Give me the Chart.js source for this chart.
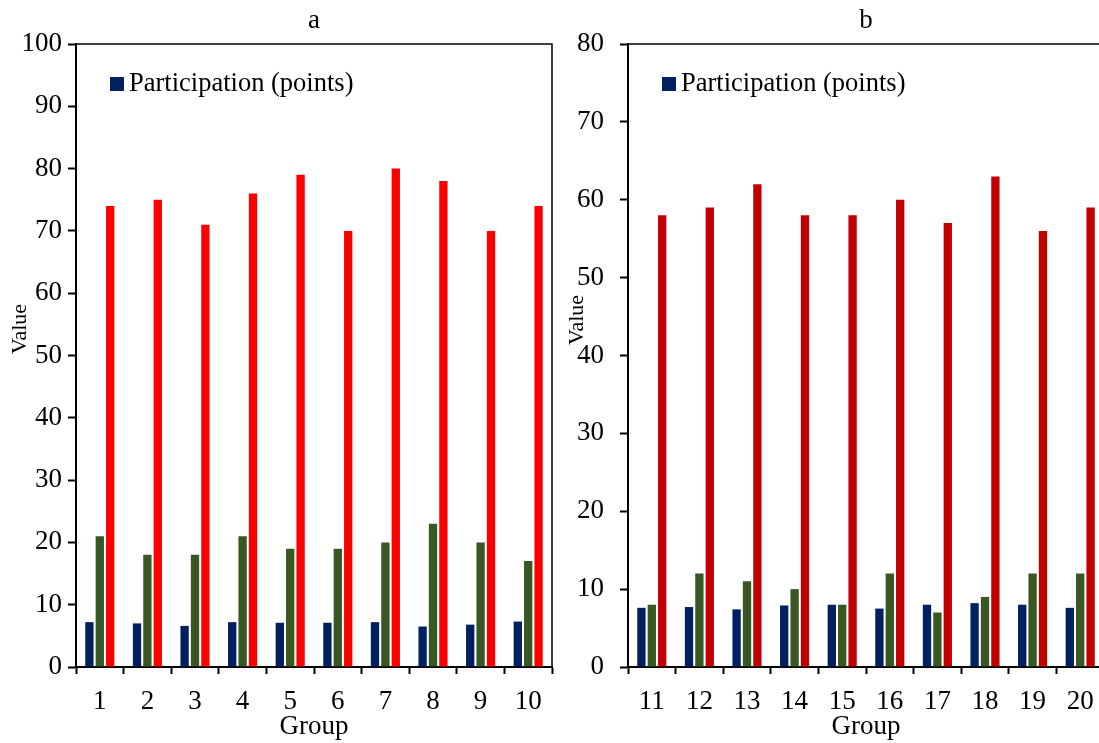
<!DOCTYPE html>
<html>
<head>
<meta charset="utf-8">
<script src="https://cdn.jsdelivr.net/npm/chart.js@4"></script>
<style>
  html, body { margin: 0; padding: 0; background: #fff; overflow: hidden; width: 1099px; height: 743px; }
  #wrapA { position: absolute; left: 0; top: 0; width: 565px; height: 743px; }
  #wrapB { position: absolute; left: 565px; top: 0; width: 560px; height: 743px; }
</style>
</head>
<body>
<div id="wrapA"><canvas id="chartA" width="565" height="743"></canvas></div>
<div id="wrapB"><canvas id="chartB" width="560" height="743"></canvas></div>
<script>
// panel a
var groupsA = ['1', '2', '3', '4', '5', '6', '7', '8', '9', '10'];
var participationA = [7.2, 7.0, 6.6, 7.2, 7.1, 7.1, 7.2, 6.5, 6.8, 7.3];
var secondA = [21, 18, 18, 21, 19, 19, 20, 23, 20, 17];
var thirdA = [74, 75, 71, 76, 79, 70, 80, 78, 70, 74];

// panel b
var groupsB = ['11', '12', '13', '14', '15', '16', '17', '18', '19', '20'];
var participationB = [7.6, 7.7, 7.4, 7.9, 8.0, 7.5, 8.0, 8.2, 8.0, 7.6];
var secondB = [8, 12, 11, 10, 8, 12, 7, 9, 12, 12];
var thirdB = [58, 59, 62, 58, 58, 60, 57, 63, 56, 59];

var FONT = '"Liberation Serif", "Times New Roman", serif';

// frame on top/right, inner legend and the small "Value" label
var extras = {
    id: 'extras',
    afterDraw: function(chart, args, opts){
        var ctx = chart.ctx, a = chart.chartArea;
        ctx.save();
        ctx.strokeStyle = '#000';
        ctx.lineWidth = 1.5;
        ctx.beginPath();
        ctx.moveTo(a.left, a.top);
        ctx.lineTo(a.right, a.top);
        ctx.lineTo(a.right, a.bottom);
        ctx.stroke();

        // legend, first dataset only
        var ds = chart.data.datasets[0];
        ctx.fillStyle = ds.backgroundColor;
        ctx.fillRect(a.left + opts.legendX, a.top + 33, 14, 14);
        ctx.fillStyle = '#000';
        ctx.font = '26.5px ' + FONT;
        ctx.textBaseline = 'middle';
        ctx.textAlign = 'left';
        ctx.fillText(ds.label, a.left + opts.legendX + 19, a.top + 40);

        // y title
        ctx.translate(a.left + opts.valueX, opts.valueY);
        ctx.rotate(-Math.PI / 2);
        ctx.textAlign = 'center';
        ctx.font = '22px ' + FONT;
        ctx.fillText('Value', 0, 0);
        ctx.restore();
    }
};

function makeChart(id, title, labels, blue, green, red, redColor, yMax, yWidth, yPad, padRight, legendX, valueX, valueY){
    var ctx = document.getElementById(id).getContext('2d');
    return new Chart(ctx, {
        type: 'bar',
        data: {
            labels: labels,
            datasets: [{
                label: 'Participation (points)',
                data: blue,
                backgroundColor: '#002060'
            },
            {
                label: 'Series 2',
                data: green,
                backgroundColor: '#385723'
            },
            {
                label: 'Series 3',
                data: red,
                backgroundColor: redColor
            }]
        },
        options: {
            responsive: false,
            animation: false,
            layout: { padding: { left: 0, right: padRight, top: 0, bottom: 0 } },
            datasets: {
                bar: { categoryPercentage: 0.655, barPercentage: 0.8 }
            },
            plugins: {
                legend: { display: false },
                tooltip: { enabled: false },
                title: {
                    display: true,
                    text: title,
                    fullSize: false,
                    color: '#000',
                    font: { family: FONT, size: 27, weight: 'normal', lineHeight: 1.2 },
                    padding: { top: 5, bottom: 6.6 }
                },
                extras: { legendX: legendX, valueX: valueX, valueY: valueY }
            },
            scales: {
                x: {
                    afterFit: function(s){ s.height = 76; },
                    grid: {
                        offset: true,
                        drawOnChartArea: false,
                        drawTicks: true,
                        tickLength: 7,
                        tickWidth: 2,
                        tickColor: '#000'
                    },
                    border: { color: '#000', width: 2 },
                    ticks: {
                        color: '#000',
                        padding: 12,
                        maxRotation: 0,
                        font: { family: FONT, size: 27 }
                    },
                    title: {
                        display: true,
                        text: 'Group',
                        color: '#000',
                        font: { family: FONT, size: 27 },
                        padding: { top: 0, bottom: 0 }
                    }
                },
                y: {
                    min: 0,
                    max: yMax,
                    afterFit: function(s){ s.width = yWidth; },
                    grid: {
                        drawOnChartArea: false,
                        drawTicks: true,
                        tickLength: 8,
                        tickWidth: 2,
                        tickColor: '#000'
                    },
                    border: { color: '#000', width: 2 },
                    ticks: {
                        stepSize: 10,
                        color: '#000',
                        padding: yPad,
                        font: { family: FONT, size: 27 }
                    }
                }
            }
        },
        plugins: [extras]
    });
}

makeChart('chartA', 'a', groupsA, participationA, secondA, thirdA, '#FF0000', 100, 76, 6, 13, 34, -56, 329);
makeChart('chartB', 'b', groupsB, participationB, secondB, thirdB, '#C00000', 80, 63, 16, 21, 34, -51, 320);
</script>
</body>
</html>
